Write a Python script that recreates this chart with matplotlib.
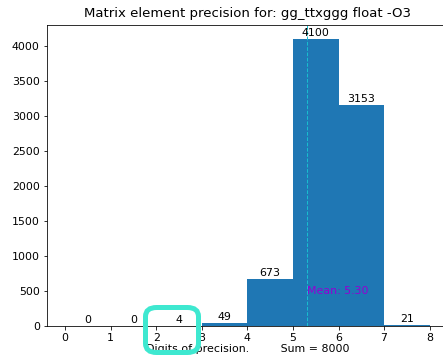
import matplotlib.pyplot as plt
from matplotlib.patches import FancyBboxPatch

# Histogram of digits of precision
bin_edges = [0, 1, 2, 3, 4, 5, 6, 7, 8]
counts = [0, 0, 4, 49, 673, 4100, 3153, 21]
mean_value = 5.30
total = 8000

plt.rcParams['font.size'] = 11

fig = plt.figure(figsize=(443 / 72, 361 / 72), dpi=72)
ax = fig.add_axes([0.1056, 0.097, 0.9056, 0.834])

bars = ax.bar(bin_edges[:-1], counts, width=1, align='edge', color='tab:blue')
ax.bar_label(bars, labels=[str(c) for c in counts], padding=1)
ax.set_xlim(-0.4, 8.4)
ax.set_ylim(0, max(counts) * 1.05)
ax.set_xticks(bin_edges)

ax.axvline(mean_value, color='tab:cyan', linestyle='--', linewidth=1)
ax.text(mean_value, 500, f'Mean: {mean_value:.2f}', color='darkviolet', va='center')

ax.set_title('Matrix element precision for: gg_ttxggg float -O3', fontsize=13.2, pad=8)
ax.set_xlabel(f'Digits of precision.         Sum = {total}', labelpad=1)

# highlight box drawn over the picture
box = FancyBboxPatch((145.5 / 443, 1 - 352.5 / 361), 53 / 443, 45 / 361,
                     boxstyle='round,pad=0,rounding_size=0.025',
                     transform=fig.transFigure, fill=False,
                     edgecolor='#3ee8d0', linewidth=5, zorder=10)
fig.patches.append(box)

fig.savefig('out.png', dpi=72)
